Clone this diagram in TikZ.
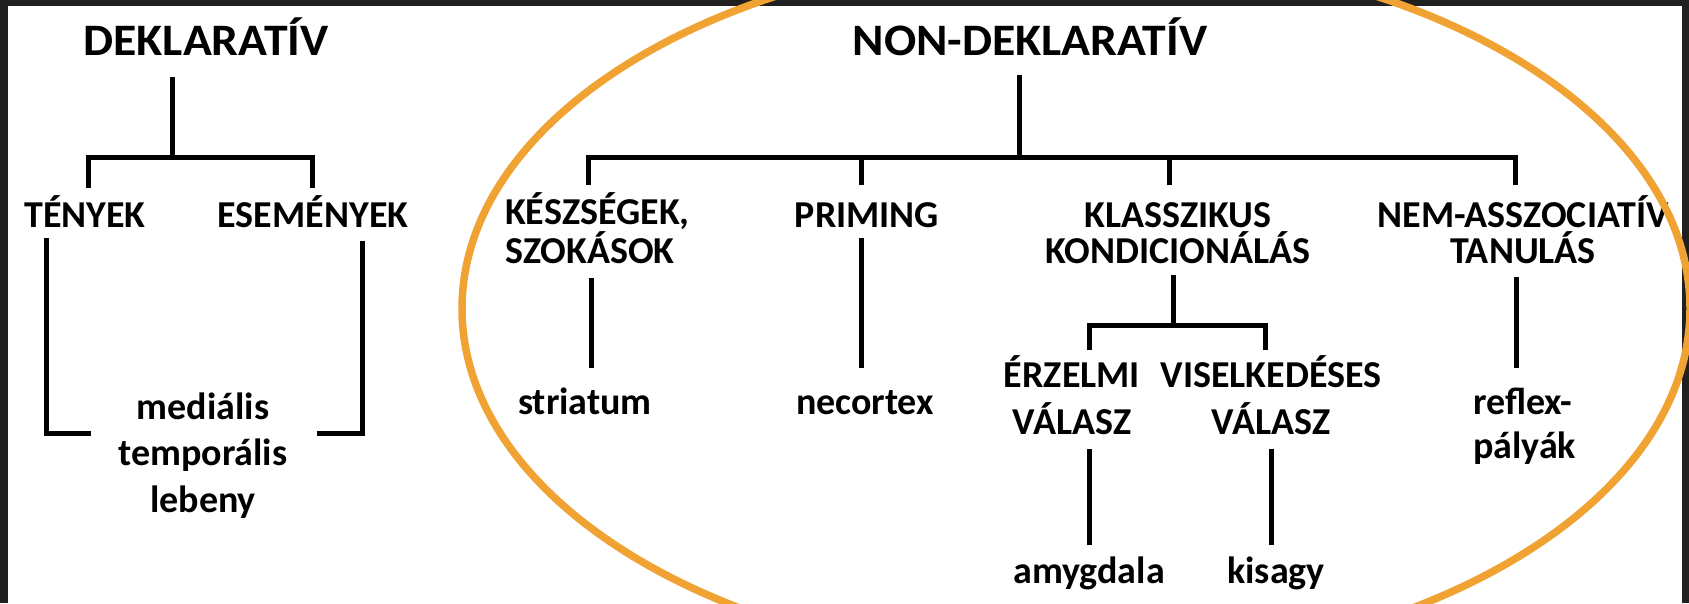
\documentclass[tikz,border=0pt]{standalone}
\usepackage{fontspec}
\setmainfont{Carlito}
\newfontfamily\headfont{Carlito}[FakeStretch=1.06]
\definecolor{ringorange}{RGB}{240,162,50}
\definecolor{bordercol}{RGB}{32,32,32}
\begin{document}
\begin{tikzpicture}[x=1pt,y=-1pt,
  lbl/.style={inner sep=0pt, anchor=base, font=\fontsize{38}{36}\selectfont\bfseries},
  lbltall/.style={lbl, font=\fontsize{38}{46.5}\selectfont\bfseries},
  head/.style={inner sep=0pt, anchor=base, font=\headfont\fontsize{45}{50}\selectfont\bfseries},
  conn/.style={line width=5pt, line cap=butt, line join=miter},
  ring/.style={draw=ringorange, line width=7.5pt}]
\useasboundingbox (0,0) rectangle (1689,603);
\fill[bordercol] (0,0) rectangle (1689,603);
\fill[white] (8,6) rectangle (1682,603);

% headings
\node[head] (dek) at (206,55) {DEKLARATÍV};
\node[head] (ndek) at (1030,55) {NON-DEKLARATÍV};

% left tree (multi-line nodes: base = baseline of last line)
\node[lbl] (teny) at (85,227) {TÉNYEK};
\node[lbl] (esem) at (313,227) {ESEMÉNYEK};
\node[lbltall, align=center] (mtl) at (203,512) {mediális\\temporális\\lebeny};

% right tree level 2
\node[lbl, align=left, anchor=base west] (kesz) at (505,263) {KÉSZSÉGEK,\\SZOKÁSOK};
\node[lbl] (prim) at (867,227) {PRIMING};
\node[lbl, align=center] (klassz) at (1178,263) {KLASSZIKUS\\KONDICIONÁLÁS};
\node[lbl, align=center] (nem) at (1523,263) {NEM-ASSZOCIATÍV\\TANULÁS};

% level 3
\node[lbl] (stri) at (585,414) {striatum};
\node[lbl] (neco) at (865,414) {necortex};
\node[lbltall, align=center] (erz) at (1072,434) {ÉRZELMI\\VÁLASZ};
\node[lbltall, align=center] (visel) at (1271,434) {VISELKEDÉSES\\VÁLASZ};
\node[lbl, align=left, anchor=base west, font=\fontsize{38}{44}\selectfont\bfseries] (refl) at (1473,458) {reflex-\\pályák};

% level 4
\node[lbl] (amyg) at (1089,583) {amygdala};
\node[lbl] (kis) at (1276,583) {kisagy};

% junction coordinates
\coordinate (barA) at (172,157);
\coordinate (barB) at (1019,157);
\coordinate (barC) at (1173,325);
\coordinate (brL) at (91,433);
\coordinate (brR) at (317,433);

% left tree connectors
\draw[conn] ([xshift=-34pt,yshift=-22pt]dek.base) -- (barA);
\draw[conn] ([xshift=3pt,yshift=39pt]teny.base) |- (barA) -| ([xshift=-1pt,yshift=39pt]esem.base);
\draw[conn] ([xshift=-39pt,yshift=-11pt]teny.base) |- (brL);
\draw[conn] ([xshift=49pt,yshift=-14pt]esem.base) |- (brR);

% right tree connectors
\draw[conn] ([xshift=-11pt,yshift=-20pt]ndek.base) -- (barB);
\draw[conn] ([xshift=83pt,yshift=78pt]kesz.base west) |- (barB) -| ([xshift=-8pt,yshift=78pt]nem.base);
\draw[conn] ([xshift=-6pt,yshift=42pt]prim.base) -- ([xshift=-6pt]prim.base |- barB);
\draw[conn] ([xshift=-9pt,yshift=78pt]klassz.base) -- ([xshift=-9pt]klassz.base |- barB);

\draw[conn] ([xshift=86pt,yshift=-15pt]kesz.base west) -- ([xshift=6pt,yshift=46pt]stri.base);
\draw[conn] ([xshift=-6pt,yshift=-11pt]prim.base) -- ([xshift=-4pt,yshift=46pt]neco.base);
\draw[conn] ([xshift=-5pt,yshift=-12pt]klassz.base) -- (barC);
\draw[conn] ([xshift=17pt,yshift=84pt]erz.base) |- (barC) -| ([xshift=-6pt,yshift=84pt]visel.base);
\draw[conn] ([xshift=-7pt,yshift=-14pt]nem.base) -- ([xshift=43pt,yshift=90pt]refl.base west);
\draw[conn] ([xshift=17pt,yshift=-15pt]erz.base) -- ([yshift=38pt]amyg.base);
\draw[conn] ([yshift=-15pt]visel.base) -- ([xshift=-5pt,yshift=38pt]kis.base);

% orange ellipse
\draw[ring] (1076,308.5) ellipse [x radius=614pt, y radius=358pt];
\end{tikzpicture}
\end{document}
